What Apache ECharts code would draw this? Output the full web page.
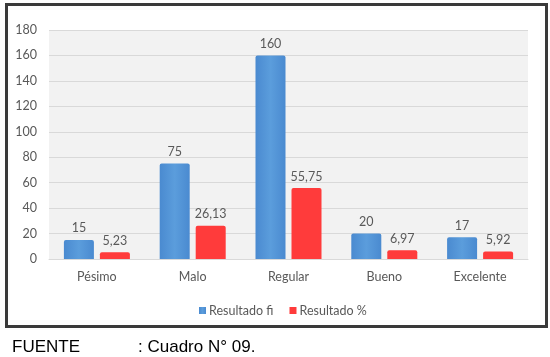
<!DOCTYPE html>
<html><head><meta charset="utf-8">
<script src="https://cdn.jsdelivr.net/npm/echarts@6/dist/echarts.min.js"></script>
<style>html,body{margin:0;padding:0;background:#fff;}#c{width:550px;height:357px;}</style>
</head><body><div id="c"></div>
<script>
const categories = ['Pésimo','Malo','Regular','Bueno','Excelente'];
const seriesNames = ['Resultado fi','Resultado %'];
const valuesFi = [15, 75, 160, 20, 17];
const valuesPct = [5.23, 26.13, 55.75, 6.97, 5.92];
const yTicks = [0,20,40,60,80,100,120,140,160,180];
const footerLabel = 'FUENTE';
const footerText = ': Cuadro N° 09.';

const FONT = 'Lato, "Open Sans", sans-serif';
const FS = 12.5;
const chart = echarts.init(document.getElementById('c'), null, {renderer:'canvas'});
const lab = {show:true, position:'top', distance:5, color:'#595959', fontSize:FS, fontFamily:FONT};
chart.setOption({
  animation:false,
  backgroundColor:'#fff',
  grid:{left:49, right:22, top:30, bottom:98, backgroundColor:'#f2f2f2', show:true, borderWidth:0},
  legend:{
    data:seriesNames, left:194, top:299, itemWidth:7, itemHeight:7, itemGap:16, icon:'rect',
    textStyle:{color:'#595959', fontSize:FS, fontFamily:FONT, padding:[0,0,0,-2]}
  },
  xAxis:{type:'category', data:categories,
    axisLine:{show:true, lineStyle:{color:'#d9d9d9'}}, axisTick:{show:false},
    axisLabel:{color:'#595959', fontSize:FS, margin:11, fontFamily:FONT}},
  yAxis:{type:'value', min:yTicks[0], max:yTicks[yTicks.length-1], interval:20,
    axisLine:{show:false}, axisTick:{show:false},
    splitLine:{lineStyle:{color:'#d9d9d9'}},
    axisLabel:{color:'#595959', fontSize:FS, margin:12, fontFamily:FONT}},
  series:[
    {name:seriesNames[0], type:'bar', data:valuesFi, barWidth:30, barGap:'20%',
      itemStyle:{borderRadius:[2,2,0,0], color:new echarts.graphic.LinearGradient(0,0,1,0,[{offset:0,color:'#4a8ad0'},{offset:0.5,color:'#5b9ddc'},{offset:1,color:'#4a8ad0'}])},
      label:Object.assign({}, lab)},
    {name:seriesNames[1], type:'bar', data:valuesPct, barWidth:30,
      itemStyle:{borderRadius:[2,2,0,0], color:'#ff3b3b'},
      label:Object.assign({}, lab, {formatter:p=>p.value.toFixed(2).replace('.',',')})}
  ],
  graphic:[
    {type:'rect', shape:{x:6.5, y:4.5, width:540, height:322}, style:{fill:'none', stroke:'#3a3a3a', lineWidth:3}},
    {type:'text', left:12, top:339, style:{text:footerLabel, fill:'#000', font:'17px "Liberation Sans", Arial, sans-serif'}},
    {type:'text', left:138, top:339, style:{text:footerText, fill:'#000', font:'17px "Liberation Sans", Arial, sans-serif'}}
  ]
});
</script></body></html>
